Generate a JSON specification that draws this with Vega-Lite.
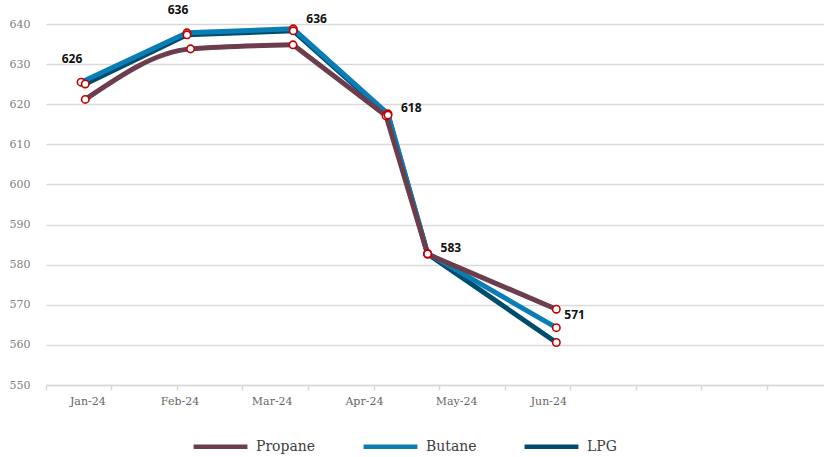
{
  "$schema": "https://vega.github.io/schema/vega-lite/v6.json",
  "width": 778,
  "height": 361,
  "autosize": {"type": "none"},
  "padding": {"left": 46, "top": 24, "right": 0, "bottom": 72},
  "background": "white",
  "config": {
    "view": {"stroke": null},
    "axis": {"labelFont": "DejaVu Serif", "labelFontSize": 11}
  },
  "data": {
    "values": [
      {"series": "Propane", "month": "Jan-24", "t": -0.022, "value": 621.2},
      {"series": "Propane", "month": "Feb-24", "t": 1.12, "value": 633.8},
      {"series": "Propane", "month": "Mar-24", "t": 2.231, "value": 634.8},
      {"series": "Propane", "month": "Apr-24", "t": 3.24, "value": 617.1},
      {"series": "Propane", "month": "May-24", "t": 3.691, "value": 582.6},
      {"series": "Propane", "month": "Jun-24", "t": 5.087, "value": 568.9},
      {"series": "Butane", "month": "Jan-24", "t": -0.068, "value": 625.5, "label": "626"},
      {"series": "Butane", "month": "Feb-24", "t": 1.081, "value": 637.8, "label": "636"},
      {"series": "Butane", "month": "Mar-24", "t": 2.234, "value": 638.8, "label": "636"},
      {"series": "Butane", "month": "Apr-24", "t": 3.261, "value": 617.6, "label": "618"},
      {"series": "Butane", "month": "May-24", "t": 3.691, "value": 582.8, "label": "583"},
      {"series": "Butane", "month": "Jun-24", "t": 5.087, "value": 564.3, "label": "571"},
      {"series": "LPG", "month": "Jan-24", "t": -0.022, "value": 625.05},
      {"series": "LPG", "month": "Feb-24", "t": 1.081, "value": 637.3},
      {"series": "LPG", "month": "Mar-24", "t": 2.234, "value": 638.3},
      {"series": "LPG", "month": "Apr-24", "t": 3.261, "value": 617.3},
      {"series": "LPG", "month": "May-24", "t": 3.691, "value": 582.7},
      {"series": "LPG", "month": "Jun-24", "t": 5.087, "value": 560.6}
    ]
  },
  "encoding": {
    "x": {
      "field": "t",
      "type": "quantitative",
      "scale": {"domain": [-0.448, 7.99], "nice": false, "zero": false},
      "axis": {
        "title": null,
        "grid": false,
        "values": [-0.448, 0, 0.262, 0.973, 1, 1.683, 2, 2.394, 3, 3.104, 3.814, 4, 4.525, 5, 5.235, 5.946, 6.656, 7.367],
        "labelExpr": "datum.value === floor(datum.value) && datum.value >= 0 ? ['Jan-24','Feb-24','Mar-24','Apr-24','May-24','Jun-24'][datum.value] : ''",
        "labelOverlap": false,
        "labelColor": "#666666",
        "labelPadding": 5,
        "domainColor": "#d9d9d9",
        "domainWidth": 1.5,
        "tickColor": "#d9d9d9",
        "tickWidth": 1.5,
        "tickSize": 5,
        "tickOpacity": {"condition": {"test": "datum.value === floor(datum.value)", "value": 0}, "value": 1}
      }
    },
    "y": {
      "field": "value",
      "type": "quantitative",
      "scale": {"domain": [550, 640], "nice": false, "zero": false},
      "axis": {
        "title": null,
        "values": [550, 560, 570, 580, 590, 600, 610, 620, 630, 640],
        "labelColor": "#808080",
        "labelPadding": 16,
        "ticks": false,
        "domain": false,
        "gridColor": "#d9d9d9",
        "gridWidth": 1.5
      }
    },
    "color": {
      "field": "series",
      "type": "nominal",
      "scale": {"domain": ["Propane", "Butane", "LPG"], "range": ["#6b3d4d", "#0a7db5", "#004c6d"]},
      "legend": {
        "title": null,
        "orient": "none",
        "legendX": 145,
        "legendY": 393,
        "direction": "horizontal",
        "symbolType": "stroke",
        "symbolSize": 2900,
        "symbolStrokeWidth": 4.5,
        "labelFont": "DejaVu Serif",
        "labelFontSize": 14,
        "labelColor": "#404040",
        "labelOffset": 6,
        "columnPadding": 38
      }
    }
  },
  "layer": [
    {
      "transform": [{"filter": "datum.series == 'LPG'"}],
      "mark": {"type": "line", "strokeWidth": 5, "strokeJoin": "round"}
    },
    {
      "transform": [{"filter": "datum.series == 'Butane'"}],
      "mark": {"type": "line", "strokeWidth": 5, "strokeJoin": "round"}
    },
    {
      "transform": [{"filter": "datum.series == 'Propane' && datum.t < 2.5"}],
      "mark": {"type": "line", "strokeWidth": 5, "strokeJoin": "round", "strokeCap": "round", "interpolate": "monotone"}
    },
    {
      "transform": [{"filter": "datum.series == 'Propane' && datum.t > 2"}],
      "mark": {"type": "line", "strokeWidth": 5, "strokeJoin": "round", "strokeCap": "round"}
    },
    {
      "mark": {"type": "point", "shape": "circle", "filled": true, "size": 55, "fill": "white", "stroke": "#c00000", "strokeWidth": 1.6, "opacity": 1},
      "encoding": {"color": {"value": "white"}}
    },
    {
      "transform": [{"filter": "datum.label != null && (datum.month == 'Jan-24' || datum.month == 'Feb-24')"}],
      "mark": {"type": "text", "font": "Open Sans", "fontWeight": "bold", "fontSize": 12, "align": "center", "baseline": "middle", "dx": -9, "dy": -23},
      "encoding": {"text": {"field": "label"}, "color": {"value": "#111111"}}
    },
    {
      "transform": [{"filter": "datum.label != null && datum.month == 'Mar-24'"}],
      "mark": {"type": "text", "font": "Open Sans", "fontWeight": "bold", "fontSize": 12, "align": "left", "baseline": "middle", "dx": 13, "dy": -10},
      "encoding": {"text": {"field": "label"}, "color": {"value": "#111111"}}
    },
    {
      "transform": [{"filter": "datum.label != null && (datum.month == 'Apr-24' || datum.month == 'May-24')"}],
      "mark": {"type": "text", "font": "Open Sans", "fontWeight": "bold", "fontSize": 12, "align": "left", "baseline": "middle", "dx": 13, "dy": -5.5},
      "encoding": {"text": {"field": "label"}, "color": {"value": "#111111"}}
    },
    {
      "transform": [{"filter": "datum.label != null && datum.month == 'Jun-24'"}],
      "mark": {"type": "text", "font": "Open Sans", "fontWeight": "bold", "fontSize": 12, "align": "left", "baseline": "middle", "dx": 8, "dy": -13},
      "encoding": {"text": {"field": "label"}, "color": {"value": "#111111"}}
    }
  ]
}
